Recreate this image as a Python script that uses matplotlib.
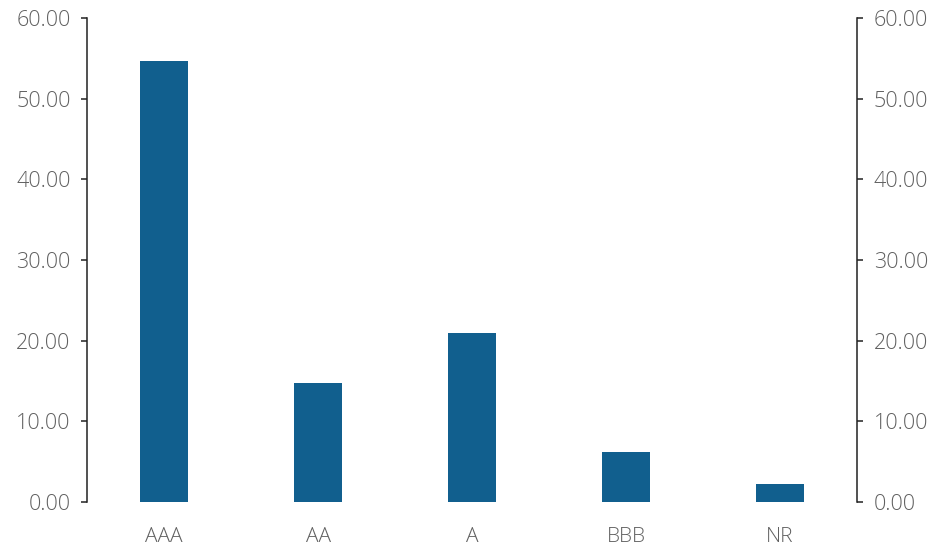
import matplotlib
matplotlib.use("Agg")
import matplotlib.pyplot as plt
import numpy as np

# ratings and their shares
ratings = ["AAA", "AA", "A", "BBB", "NR"]
shares = [54.7, 14.7, 21.0, 6.2, 2.2]
yticks = [0, 10, 20, 30, 40, 50, 60]

bar_color = "#115f8e"
text_color = "#606060"

plt.rcParams["font.family"] = ["Open Sans", "DejaVu Sans"]
plt.rcParams["font.weight"] = "light"

fig = plt.figure(figsize=(9.36, 5.49), dpi=100)
ax = fig.add_axes([0.093, 0.0856, 0.8226, 0.8814])

x = np.arange(len(ratings))
ax.bar(x, shares, width=0.31, color=bar_color, zorder=2)

ax.set_xlim(-0.5, len(ratings) - 0.5)
ax.set_ylim(0, 60)
ax.set_xticks(x)
ax.set_xticklabels(ratings)
ax.set_yticks(yticks)
ax.set_yticklabels(["%.2f" % v for v in yticks])

ax2 = ax.twinx()
ax2.set_ylim(0, 60)
ax2.set_yticks(yticks)
ax2.set_yticklabels(["%.2f" % v for v in yticks])

for a in (ax, ax2):
    for s in ("top", "bottom"):
        a.spines[s].set_visible(False)
    a.spines["left"].set_linewidth(1.1)
    a.spines["right"].set_linewidth(1.1)
    a.spines["left"].set_color("#222222")
    a.spines["right"].set_color("#222222")
    a.tick_params(axis="y", length=4, width=1.1, color="#222222",
                  labelsize=15.5, labelcolor=text_color, pad=8)

ax.spines["right"].set_visible(False)
ax2.spines["left"].set_visible(False)
ax.tick_params(axis="x", length=0, labelsize=15, labelcolor=text_color, pad=18)

fig.savefig("out.png", dpi=100, facecolor="white")
